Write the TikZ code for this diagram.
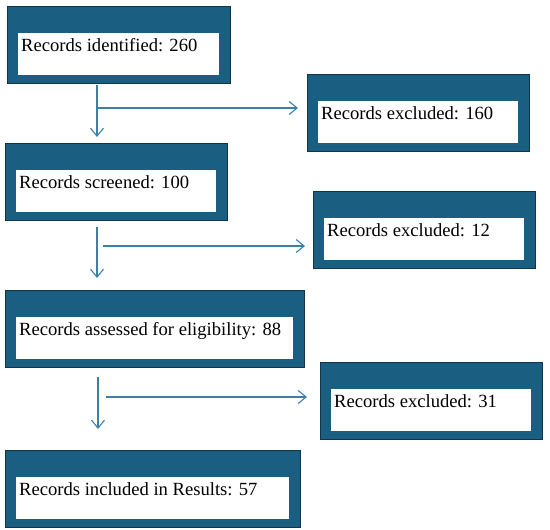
\documentclass[tikz,border=0pt]{standalone}
\usepackage{fontspec}
\setmainfont{Liberation Serif}
\usetikzlibrary{arrows.meta}
\definecolor{boxblue}{RGB}{26,94,130}
\definecolor{boxedge}{RGB}{16,52,72}
\definecolor{arrblue}{RGB}{58,128,168}
\tikzset{
  outerbox/.style={draw=boxedge, line width=1pt, fill=boxblue, minimum height=77pt, inner sep=0pt, outer sep=0pt},
  innerbox/.style={fill=white, draw=none, minimum height=42pt, inner sep=0pt, outer sep=0pt},
  lbl/.style={inner sep=0pt, font=\fontsize{18.6}{22}\selectfont, text=black},
  arr/.style={draw=arrblue, line width=1.2pt, -{Straight Barb[length=8pt,width=13pt,line width=1.1pt]}},
}
\newcommand\prbox[5]{%
  \node[outerbox, minimum width=#4pt, anchor=north west] (#1) at (#2,#3) {};
  \node[innerbox, minimum width=#4pt-22pt, anchor=north west] (#1in) at ([xshift=11pt,yshift=-26.5pt]#1.north west) {};
  \node[lbl, anchor=base west] (#1txt) at ([xshift=3pt,yshift=-18.5pt]#1in.north west) {#5};
}
\begin{document}
\begin{tikzpicture}[x=1pt,y=-1pt]
\useasboundingbox (0,0) rectangle (550,530);
\prbox{b1}{7}{6}{223}{Records identified: 260}
\prbox{b2}{307}{74}{222}{Records excluded: 160}
\prbox{b3}{5}{143}{222}{Records screened: 100}
\prbox{b4}{313}{191}{222}{Records excluded: 12}
\prbox{b5}{5}{290}{299}{Records assessed for eligibility: 88}
\prbox{b6}{320}{362}{222}{Records excluded: 31}
\prbox{b7}{5}{450}{295}{Records included in Results: 57}
% connectors
\coordinate (v1) at (97,85);
\coordinate (h1) at (97,108);
\draw[arr] (v1) -- ([yshift=6pt]v1 |- b3.north);
\draw[arr] (h1) -- ([xshift=-9pt]b2.west |- h1);
\coordinate (v2) at (97,227);
\coordinate (h2) at (103,246);
\draw[arr] (v2) -- ([yshift=12pt]v2 |- b5.north);
\draw[arr] (h2) -- ([xshift=-8pt]b4.west |- h2);
\coordinate (v3) at (98,377);
\coordinate (h3) at (106,397);
\draw[arr] (v3) -- ([yshift=21pt]v3 |- b7.north);
\draw[arr] (h3) -- ([xshift=-13pt]b6.west |- h3);
\end{tikzpicture}
\end{document}
